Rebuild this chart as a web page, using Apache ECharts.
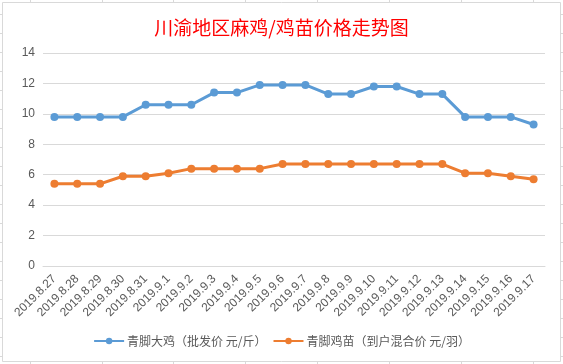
<!DOCTYPE html>
<html>
<head>
<meta charset="utf-8">
<script src="https://cdn.jsdelivr.net/npm/echarts@6/dist/echarts.min.js"></script>
<style>
html,body{margin:0;padding:0;background:#fff;}
#c{width:563px;height:364px;}
</style>
</head>
<body>
<div id="c"></div>
<script>
const titleText = '川渝地区麻鸡/鸡苗价格走势图';
const categories = ['2019.8.27','2019.8.28','2019.8.29','2019.8.30','2019.8.31','2019.9.1','2019.9.2','2019.9.3','2019.9.4','2019.9.5','2019.9.6','2019.9.7','2019.9.8','2019.9.9','2019.9.10','2019.9.11','2019.9.12','2019.9.13','2019.9.14','2019.9.15','2019.9.16','2019.9.17'];
const seriesNames = ['青脚大鸡（批发价 元/斤）','青脚鸡苗（到户混合价 元/羽）'];
const bigChicken = [9.8,9.8,9.8,9.8,10.6,10.6,10.6,11.4,11.4,11.9,11.9,11.9,11.3,11.3,11.8,11.8,11.3,11.3,9.8,9.8,9.8,9.3];
const chicks = [5.4,5.4,5.4,5.9,5.9,6.1,6.4,6.4,6.4,6.4,6.7,6.7,6.7,6.7,6.7,6.7,6.7,6.7,6.1,6.1,5.9,5.7];
const yTicks = [0,2,4,6,8,10,12,14];

const chart = echarts.init(document.getElementById('c'), null, {renderer:'canvas'});

const frameGraphics = [
  {type:'rect', shape:{x:2.5,y:2.5,width:558,height:359}, style:{fill:'none',stroke:'#D9D9D9',lineWidth:1}, z:-1}
];
for (let k=0;k<19;k++){
  const y = 14.5 + 19*k;
  if (y>362) break;
  frameGraphics.push({type:'line', shape:{x1:0,y1:y,x2:2,y2:y}, style:{stroke:'#D9D9D9',lineWidth:1}});
  frameGraphics.push({type:'line', shape:{x1:561,y1:y,x2:563,y2:y}, style:{stroke:'#D9D9D9',lineWidth:1}});
}
for (let k=0;k<8;k++){
  const x = Math.round(29.7 + 71.85*k)+0.5;
  frameGraphics.push({type:'line', shape:{x1:x,y1:0,x2:x,y2:2}, style:{stroke:'#D9D9D9',lineWidth:1}});
  frameGraphics.push({type:'line', shape:{x1:x,y1:362,x2:x,y2:364}, style:{stroke:'#D9D9D9',lineWidth:1}});
}

chart.setOption({
  backgroundColor:'#ffffff',
  animation:false,
  title:{
    text:titleText, left:'center', top:13,
    textStyle:{color:'#FF0000', fontSize:19, fontWeight:'normal', fontFamily:'Noto Sans CJK SC'}
  },
  grid:{left:43, right:18, top:53, bottom:98, containLabel:false},
  legend:{
    bottom:12, left:'center', itemWidth:30, itemHeight:8, itemGap:6,
    textStyle:{color:'#595959', fontSize:12, fontFamily:'Noto Sans CJK SC', padding:[0,0,0,-2]},
    data:seriesNames
  },
  xAxis:{
    type:'category', data:categories, boundaryGap:true,
    axisLine:{show:true, lineStyle:{color:'#D9D9D9'}},
    axisTick:{show:false},
    axisLabel:{rotate:45, interval:0, color:'#595959', fontSize:12, fontFamily:'Liberation Sans', margin:11}
  },
  yAxis:{
    type:'value', min:yTicks[0], max:yTicks[yTicks.length-1], interval:2,
    axisLine:{show:false}, axisTick:{show:false},
    splitLine:{lineStyle:{color:'#D9D9D9'}},
    axisLabel:{color:'#595959', fontSize:12, fontFamily:'Liberation Sans', margin:8}
  },
  series:[
    {name:seriesNames[0], type:'line', data:bigChicken, symbol:'circle', symbolSize:8,
     itemStyle:{color:'#5B9BD5'}, lineStyle:{color:'#5B9BD5', width:3}},
    {name:seriesNames[1], type:'line', data:chicks, symbol:'circle', symbolSize:8,
     itemStyle:{color:'#ED7D31'}, lineStyle:{color:'#ED7D31', width:3}}
  ],
  graphic:frameGraphics
});
</script>
</body>
</html>
